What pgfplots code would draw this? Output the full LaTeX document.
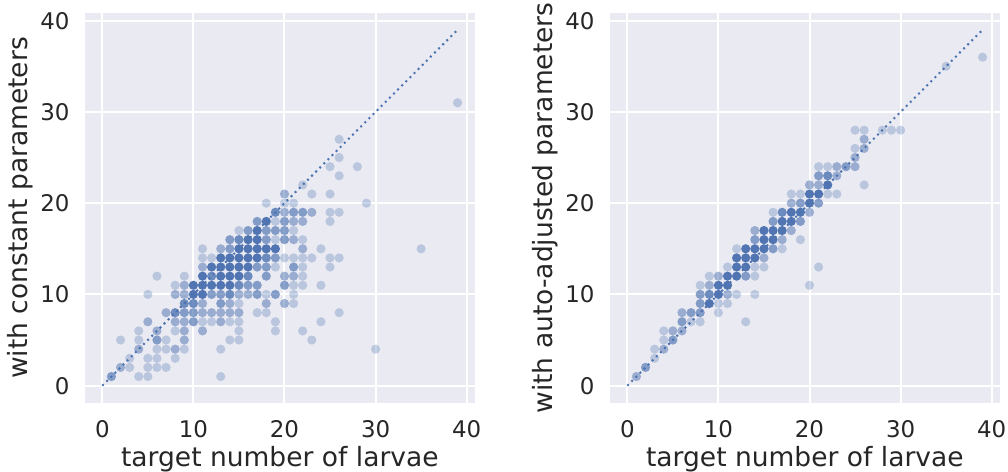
\documentclass[border=0pt]{standalone}
\usepackage{fontspec}
\setmainfont{DejaVu Sans}
\usepackage{pgfplots}
\pgfplotsset{compat=1.18}

\definecolor{panel}{RGB}{234,234,242}
\definecolor{deepblue}{RGB}{76,114,176}
\definecolor{inkgray}{RGB}{38,38,38}

\pgfplotsset{
  panelaxis/.style={
    at={(#1,69bp)}, anchor=south west,
    scale only axis, width=389.7bp, height=390bp,
    xmin=-1.9, xmax=40.88, ymin=-1.9, ymax=40.84,
    xtick={0,10,20,30,40}, ytick={0,10,20,30,40},
    major tick length=0pt,
    axis line style={draw=none},
    axis background/.style={fill=panel},
    grid=major,
    major grid style={white, line width=2bp},
    tick label style={font=\fontsize{23}{23}\selectfont, text=inkgray},
    /pgf/number format/assume math mode=true,
    xticklabel style={anchor=base, yshift=-34bp},
    yticklabel style={anchor=east, xshift=-12bp},
    label style={font=\fontsize{26.6}{27}\selectfont, text=inkgray},
    xlabel style={at={(axis description cs:0.5,0)}, anchor=base, yshift=-63bp},
    ylabel style={at={(axis description cs:-0.1463,0.5)}, anchor=base},
    xlabel={target number of larvae},
  },
  pts/.style={only marks, mark=*, mark size=4.6bp,
    mark options={draw=deepblue, line width=0pt, draw opacity=0, fill=deepblue, fill opacity=#1}},
  diag/.style={deepblue, line width=2bp, dash pattern=on 2bp off 3.8bp},
}

\begin{document}
\begin{tikzpicture}
\useasboundingbox (0,0) rectangle (1008bp,472bp);

\begin{axis}[panelaxis=85bp, ylabel={with constant parameters}]
\addplot[pts=0.3] coordinates {
(4,1) (5,1) (13,1) (3,2) (5,2) (6,2) (7,2) (3,3) (5,3) (6,3) (8,3) (6,4) (7,4) (9,4) (13,4) (30,4)
(2,5) (4,5) (7,5) (14,5) (15,5) (23,5) (4,6) (8,6) (15,6) (19,6) (22,6)
(11,7) (12,7) (14,7) (15,7) (19,7) (24,7) (17,8) (18,8) (26,8) (15,9) (21,9) (5,10) (18,10) (21,10)
(8,11) (21,11) (22,11) (24,11) (6,12) (9,12) (22,12) (19,13) (22,13) (25,13)
(11,14) (12,14) (20,14) (21,14) (22,14) (23,14) (25,14) (26,14) (11,15) (24,15) (35,15)
(19,16) (22,16) (15,17) (21,17) (19,18) (25,18) (25,19) (26,19) (18,20) (20,20) (21,20) (29,20)
(23,21) (25,21) (22,22) (26,23) (25,24) (28,24) (26,25) (26,27) (39,31)
};
\addplot[pts=0.5] coordinates {
(2,2) (4,4) (8,4) (9,5) (6,6) (9,6) (11,6) (5,7) (8,7) (9,7) (13,7) (7,8) (11,8) (12,8) (13,8) (14,8) (15,8)
(11,9) (14,9) (18,9) (20,9) (8,10) (9,10) (15,10) (16,10) (9,11) (20,12) (21,12) (11,13) (13,15) (22,15)
(21,16) (21,18) (22,18) (20,19) (23,19) (20,21)
};
\addplot[pts=0.65] coordinates {
(1,1) (6,5) (10,7) (9,8) (10,8) (13,9) (12,10) (13,10) (17,10) (19,10) (16,11) (17,11) (20,11) (18,12)
(17,13) (18,13) (21,13) (19,14) (14,15) (14,16) (18,16) (20,16) (16,17) (18,17) (19,17) (20,17)
(17,18) (20,18) (21,19) (22,19)
};
\addplot[pts=0.8] coordinates {
(8,8) (9,9) (10,9) (14,10) (15,11) (12,12) (16,12) (18,14) (15,16) (19,19)
};
\addplot[pts=0.97] coordinates {
(10,10) (11,10) (10,11) (11,11) (12,11) (13,11) (14,11) (11,12) (13,12) (14,12) (15,12)
(12,13) (13,13) (14,13) (15,13) (16,13) (13,14) (14,14) (15,14) (16,14) (17,14)
(15,15) (16,15) (17,15) (18,15) (19,15) (16,16) (17,16) (17,17) (18,18)
};
\addplot[diag] coordinates {(0,0) (39,39)};
\end{axis}

\begin{axis}[panelaxis=610bp, ylabel={with auto-adjusted parameters}]
\addplot[pts=0.3] coordinates {
(3,3) (3,4) (4,5) (4,6) (7,7) (8,7) (13,7) (10,8) (10,9) (11,9) (12,10) (14,10) (8,11) (20,11) (9,12) (14,12)
(11,13) (14,13) (15,13) (21,13) (12,15) (17,15) (19,16) (16,19) (18,21) (19,21) (22,21) (23,21) (26,22)
(21,24) (22,24) (25,26) (25,28) (26,28) (28,28) (29,28) (30,28) (35,35) (39,36)
};
\addplot[pts=0.5] coordinates {
(1,1) (4,4) (5,6) (6,6) (6,8) (11,10) (9,11) (10,12) (15,14) (17,16) (14,17) (18,17) (20,19) (18,20)
(20,22) (21,22) (23,23) (23,24) (25,24) (25,25) (26,26) (26,27)
};
\addplot[pts=0.65] coordinates {
(2,2) (5,5) (6,7) (7,8) (8,8) (8,9) (8,10) (13,12) (16,15) (14,16) (16,18) (19,18) (19,20) (21,20)
(21,23) (24,24)
};
\addplot[pts=0.8] coordinates {
(9,10) (17,19) (22,23)
};
\addplot[pts=0.97] coordinates {
(9,9) (10,10) (10,11) (11,11) (11,12) (12,12) (12,13) (13,13) (12,14) (13,14) (14,14) (13,15) (14,15) (15,15)
(15,16) (16,16) (15,17) (16,17) (17,17) (17,18) (18,18) (18,19) (19,19) (20,20) (20,21) (21,21) (22,22)
};
\addplot[diag] coordinates {(0,0) (39,39)};
\end{axis}

\end{tikzpicture}
\end{document}
